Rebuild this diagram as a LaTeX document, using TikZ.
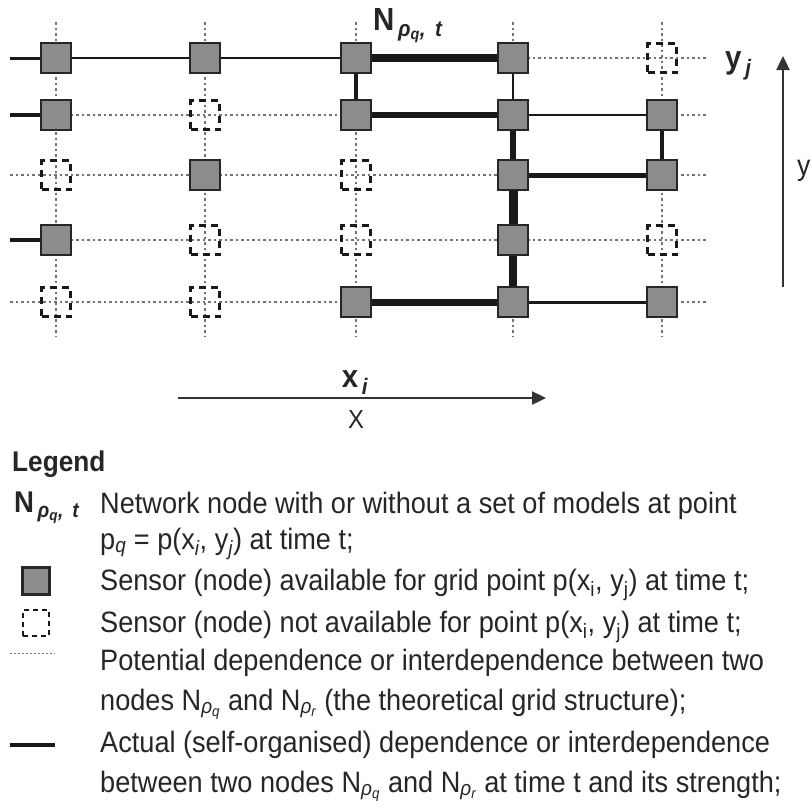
\documentclass[tikz,border=0pt]{standalone}
\usepackage{fontspec}
\setmainfont[FakeStretch=0.92]{Liberation Sans}
\usetikzlibrary{arrows.meta}

\newcommand{\Nrho}[1]{N\textsubscript{\itshape ρ\textsubscript{#1}}}
\newcommand{\Nrhot}{N\textsubscript{\itshape\,ρ\textsubscript{q}, \,t}}

\begin{document}
\begin{tikzpicture}[
  x=1pt, y=-1pt,
  %  styles des capteurs
  sensor_on/.style={rectangle, draw=black!85, fill=black!45, line width=2.4pt, minimum size=30pt, inner sep=0pt},
  sensor_off/.style={rectangle, draw=black!90, dash pattern=on 7pt off 5pt, line width=2.2pt, minimum size=29pt, inner sep=0pt},
  gridline/.style={draw=black!55, dash pattern=on 2.5pt off 3pt, line width=1.1pt},
  link/.style={draw=black!90, line width=#1},
  axis/.style={draw=black!80, line width=2.4pt, -{Triangle[length=14pt, width=13pt]}},
  label_style/.style={font=\bfseries\fontsize{32}{36}\selectfont, text=black!85},
  legend_style/.style={anchor=base west, font=\fontsize{29.5}{36}\selectfont, text=black!85, inner sep=0pt}
]
\useasboundingbox (0,0) rectangle (812,809);

%  points de la grille
\foreach \c/\x in {1/56,2/205,3/356,4/513,5/662}
  \foreach \r/\y in {1/58,2/115,3/175,4/240,5/302}
    \coordinate (p-\r-\c) at (\x,\y);
\coordinate (gl) at (10,0);
\coordinate (gr) at (708,0);
\coordinate (gt) at (0,22);
\coordinate (gb) at (0,336);

%  grille théorique
\foreach \r in {1,...,5}
  \draw[gridline] (gl |- p-\r-1) -- (gr |- p-\r-1);
\foreach \c in {1,...,5}
  \draw[gridline] (p-1-\c |- gt) -- (p-1-\c |- gb);

%  capteurs
\node[sensor_on]  (s-1-1) at (p-1-1) {};
\node[sensor_on]  (s-1-2) at (p-1-2) {};
\node[sensor_on]  (s-1-3) at (p-1-3) {};
\node[sensor_on]  (s-1-4) at (p-1-4) {};
\node[sensor_off] (s-1-5) at (p-1-5) {};
\node[sensor_on]  (s-2-1) at (p-2-1) {};
\node[sensor_off] (s-2-2) at (p-2-2) {};
\node[sensor_on]  (s-2-3) at (p-2-3) {};
\node[sensor_on]  (s-2-4) at (p-2-4) {};
\node[sensor_on]  (s-2-5) at (p-2-5) {};
\node[sensor_off] (s-3-1) at (p-3-1) {};
\node[sensor_on]  (s-3-2) at (p-3-2) {};
\node[sensor_off] (s-3-3) at (p-3-3) {};
\node[sensor_on]  (s-3-4) at (p-3-4) {};
\node[sensor_on]  (s-3-5) at (p-3-5) {};
\node[sensor_on]  (s-4-1) at (p-4-1) {};
\node[sensor_off] (s-4-2) at (p-4-2) {};
\node[sensor_off] (s-4-3) at (p-4-3) {};
\node[sensor_on]  (s-4-4) at (p-4-4) {};
\node[sensor_off] (s-4-5) at (p-4-5) {};
\node[sensor_off] (s-5-1) at (p-5-1) {};
\node[sensor_off] (s-5-2) at (p-5-2) {};
\node[sensor_on]  (s-5-3) at (p-5-3) {};
\node[sensor_on]  (s-5-4) at (p-5-4) {};
\node[sensor_on]  (s-5-5) at (p-5-5) {};

%  liens réels (épaisseur = force)
\coordinate (e-1) at (gl |- p-1-1);
\coordinate (e-2) at (gl |- p-2-1);
\coordinate (e-4) at (gl |- p-4-1);
\draw[link=3pt]   (e-1) -- (s-1-1);
\draw[link=3.5pt] (e-2) -- (s-2-1);
\draw[link=3.5pt] (e-4) -- (s-4-1);
\draw[link=2.2pt] (s-1-1) -- (s-1-2);
\draw[link=1.5pt] (s-1-2) -- (s-1-3);
\draw[link=8pt]   (s-1-3) -- (s-1-4);
\draw[link=5.5pt] (s-2-3) -- (s-2-4);
\draw[link=1.5pt] (s-2-4) -- (s-2-5);
\draw[link=5pt]   (s-3-4) -- (s-3-5);
\draw[link=7pt]   (s-5-3) -- (s-5-4);
\draw[link=3pt]   (s-5-4) -- (s-5-5);
\draw[link=3.5pt] (s-1-3) -- (s-2-3);
\draw[link=1.2pt] (s-1-4) -- (s-2-4);
\draw[link=6pt]   (s-2-4) -- (s-3-4);
\draw[link=9pt]   (s-3-4) -- (s-4-4);
\draw[link=8pt]   (s-4-4) -- (s-5-4);
\draw[link=3.5pt] (s-2-5) -- (s-3-5);

%  étiquettes et axes
\node[label_style, anchor=base west, inner sep=0pt] (lbl-n) at (373,30) {\Nrhot};
\node[label_style, anchor=base west, inner sep=0pt] (lbl-y) at (725,68) {y\textsubscript{\itshape\,j}};
\node[label_style, anchor=base, inner sep=0pt] (lbl-x) at (355,387) {x\textsubscript{\itshape\,i}};
\coordinate (ax-y0) at (783,287);
\coordinate (ax-y1) at (783,56);
\coordinate (ax-x0) at (178,398);
\coordinate (ax-x1) at (546,398);
\draw[axis] (ax-y0) -- (ax-y1);
\draw[axis] (ax-x0) -- (ax-x1);
\node[font=\fontsize{26}{30}\selectfont, text=black!85] (lbl-X) at (356,420) {X};
\node[font=\fontsize{29}{30}\selectfont, text=black!85, anchor=west, inner sep=0pt] (lbl-yy) at (797,171) {y};

%  légende
\node[font=\bfseries\fontsize{28.5}{32}\selectfont, text=black!85, anchor=base west, inner sep=0pt] (leg) at (12,471) {Legend};
\node[font=\bfseries\fontsize{30}{32}\selectfont, text=black!85, anchor=base west, inner sep=0pt] (key-n) at (14,512) {\Nrhot};
\node[sensor_on, minimum size=27pt, line width=2.2pt] (key-on) at (36,581) {};
\node[sensor_off, minimum size=26pt, dash pattern=on 5pt off 4pt, line width=2pt] (key-off) at (36,623) {};
\coordinate (key-d0) at (10,653);
\coordinate (key-d1) at (55,653);
\coordinate (key-l0) at (10,745);
\coordinate (key-l1) at (55,745);
\draw[gridline, dash pattern=on 2pt off 2pt, line width=0.8pt] (key-d0) -- (key-d1);
\draw[link=3.5pt] (key-l0) -- (key-l1);

\node[legend_style] (txt-1) at (100,513) {Network node with or without a set of models at point};
\node[legend_style] (txt-2) at (100,549) {p\textsubscript{\itshape q} = p(x\textsubscript{\itshape i}, y\textsubscript{\itshape j}) at time t;};
\node[legend_style] (txt-3) at (100,590) {Sensor (node) available for grid point p(x\textsubscript{i}, y\textsubscript{j}) at time t;};
\node[legend_style] (txt-4) at (100,632) {Sensor (node) not available for point p(x\textsubscript{i}, y\textsubscript{j}) at time t;};
\node[legend_style] (txt-5) at (100,670) {Potential dependence or interdependence between two};
\node[legend_style] (txt-6) at (100,710) {nodes \Nrho{q} and \Nrho{r} (the theoretical grid structure);};
\node[legend_style] (txt-7) at (100,752) {Actual (self-organised) dependence or interdependence};
\node[legend_style] (txt-8) at (100,792) {between two nodes \Nrho{q} and \Nrho{r} at time t and its strength;};
\end{tikzpicture}
\end{document}
